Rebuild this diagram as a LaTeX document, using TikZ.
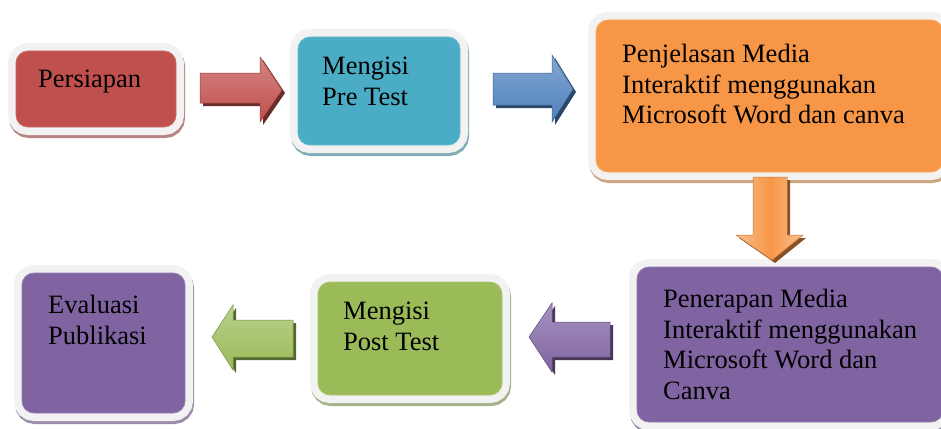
\documentclass[tikz,border=0pt]{standalone}
\usepackage{fontspec}
\setmainfont{Liberation Serif}
\usetikzlibrary{shadows}
\definecolor{cred}{HTML}{C0504D}
\definecolor{cblue}{HTML}{4BACC6}
\definecolor{corange}{HTML}{F79646}
\definecolor{cpurple}{HTML}{8064A2}
\definecolor{cgreen}{HTML}{9BBB59}
\definecolor{carblue}{HTML}{4F81BD}
\definecolor{framegray}{HTML}{F2F2F2}
\begin{document}
\begin{tikzpicture}[x=1pt,y=-1pt,
  box/.style={rounded corners=12pt, inner sep=0pt, fill=#1,
    general shadow={shadow xshift=1pt, shadow yshift=-3pt, fill=#1!55!gray!80, draw=#1!55!gray!80, line width=16pt},
    preaction={draw=framegray, line width=16pt},
    draw=#1!85!white, line width=0.8pt},
  label/.style={anchor=north west, inner sep=0pt, align=left,
    font=\fontsize{26.5}{30.5}\selectfont},
  blockarrow/.style={fill=#1, draw=#1!80!black, line width=0.5pt},
  arrowshade/.style={fill=#1!55!black}]
\useasboundingbox (0,0) rectangle (941,428);
\fill[white] (0,0) rectangle (941,428);

% boxes
\node[box=cred, minimum width=160pt, minimum height=76pt] (persiapan) at (96,89) {};
\node[box=cblue, minimum width=162pt, minimum height=108pt] (pretest) at (379,91) {};
\node[box=corange, minimum width=347pt, minimum height=152pt] (penjelasan) at (769.5,96) {};
\node[box=cpurple, minimum width=306pt, minimum height=155pt] (penerapan) at (790,344.5) {};
\node[box=cgreen, minimum width=184pt, minimum height=113pt] (posttest) at (410,338.5) {};
\node[box=cpurple, minimum width=163pt, minimum height=140pt] (evaluasi) at (103.5,343) {};

% texts
\node[label] (t1) at (38,70) {Persiapan};
\node[label] (t2) at (322,57) {Mengisi\\Pre Test};
\node[label] (t3) at (622,44) {Penjelasan Media\\Interaktif menggunakan\\Microsoft Word dan canva};
\node[label] (t4) at (663,289) {Penerapan Media\\Interaktif menggunakan\\Microsoft Word dan\\Canva};
\node[label] (t5) at (343,302) {Mengisi\\Post Test};
\node[label] (t6) at (48,295) {Evaluasi\\Publikasi};

% block arrows
\begin{scope}[shift={(3,3)}]
\fill[arrowshade=cred] (200,73) -- (260,73) -- (260,57) -- (282,90) -- (260,122) -- (260,103) -- (200,103) -- cycle;
\fill[arrowshade=carblue] (493,73) -- (552,73) -- (552,55) -- (573,89) -- (552,122) -- (552,105) -- (493,105) -- cycle;
\fill[arrowshade=corange] (753,177) -- (787,177) -- (787,235) -- (803,235) -- (772,260) -- (736,235) -- (753,235) -- cycle;
\fill[arrowshade=cpurple] (610,322) -- (552,322) -- (552,303) -- (529,337) -- (552,372) -- (552,357) -- (610,357) -- cycle;
\fill[arrowshade=cgreen] (293,320) -- (233,320) -- (233,305) -- (212,337) -- (233,370) -- (233,357) -- (293,357) -- cycle;
\end{scope}
\path[blockarrow=cred, top color=cred!70!white, bottom color=cred] (200,73) -- (260,73) -- (260,57) -- (282,90) -- (260,122) -- (260,103) -- (200,103) -- cycle;
\path[blockarrow=carblue, top color=carblue!70!white, bottom color=carblue] (493,73) -- (552,73) -- (552,55) -- (573,89) -- (552,122) -- (552,105) -- (493,105) -- cycle;
\path[blockarrow=corange, left color=corange!60!white, right color=corange!60!white, middle color=corange] (753,177) -- (787,177) -- (787,235) -- (803,235) -- (772,260) -- (736,235) -- (753,235) -- cycle;
\path[blockarrow=cpurple, top color=cpurple!70!white, bottom color=cpurple] (610,322) -- (552,322) -- (552,303) -- (529,337) -- (552,372) -- (552,357) -- (610,357) -- cycle;
\path[blockarrow=cgreen, top color=cgreen!70!white, bottom color=cgreen] (293,320) -- (233,320) -- (233,305) -- (212,337) -- (233,370) -- (233,357) -- (293,357) -- cycle;
\end{tikzpicture}
\end{document}
